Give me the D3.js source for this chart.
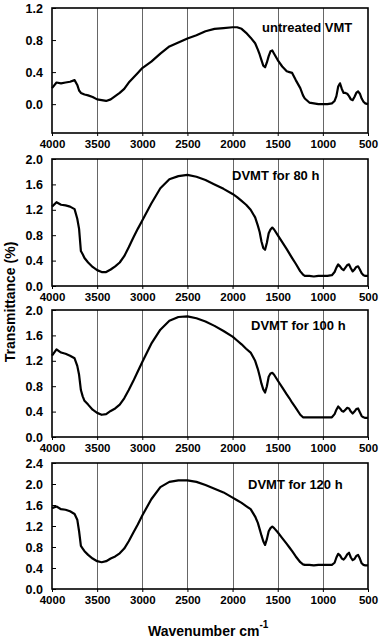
<!DOCTYPE html>
<html>
<head>
<meta charset="utf-8">
<script src="https://cdn.jsdelivr.net/npm/d3@7"></script>
<style>
  body { margin: 0; background: #fff; }
  text { font-family: Arial, 'Liberation Sans', sans-serif; font-weight: bold; }
</style>
</head>
<body>
<div id="chart"></div>
<script>
// wavenumber grid (cm-1) shared by the four spectra
const wavenumbers = [4000, 3950, 3900, 3850, 3800, 3750, 3720, 3700, 3680, 3660, 3640, 3600, 3550, 3500, 3450, 3400,
  3350, 3300, 3250, 3200, 3150, 3100, 3050, 3000, 2900, 2800, 2700, 2600, 2500, 2400, 2300, 2200, 2100, 2000,
  1950, 1900, 1850, 1800, 1750, 1720, 1700, 1680, 1660, 1640, 1620, 1600, 1580, 1560, 1540, 1500, 1450, 1400,
  1370, 1340, 1300, 1250, 1220, 1200, 1150, 1100, 1050, 1000, 950, 900, 870, 850, 830, 810, 790, 770, 750, 730,
  710, 690, 670, 650, 630, 610, 590, 570, 550, 530, 500]

const untreated = [0.20, 0.27, 0.26, 0.27, 0.28, 0.30, 0.24, 0.17, 0.14, 0.13, 0.12, 0.11, 0.09, 0.06, 0.05, 0.04,
  0.06, 0.10, 0.14, 0.19, 0.27, 0.33, 0.39, 0.45, 0.53, 0.63, 0.72, 0.77, 0.82, 0.86, 0.91, 0.94, 0.95, 0.96,
  0.96, 0.94, 0.89, 0.83, 0.76, 0.68, 0.62, 0.55, 0.48, 0.46, 0.52, 0.60, 0.66, 0.67, 0.63, 0.55, 0.47, 0.41,
  0.40, 0.39, 0.30, 0.20, 0.11, 0.07, 0.02, 0.01, 0.00, 0.00, 0.00, 0.01, 0.04, 0.10, 0.22, 0.26, 0.19, 0.14, 0.14, 0.13,
  0.10, 0.06, 0.05, 0.09, 0.14, 0.16, 0.13, 0.07, 0.03, 0.01, 0.00]

const dvmt80 = [1.25, 1.32, 1.28, 1.27, 1.25, 1.21, 1.06, 0.90, 0.55, 0.50, 0.44, 0.37, 0.30, 0.25, 0.22, 0.22,
  0.26, 0.31, 0.37, 0.47, 0.61, 0.76, 0.90, 1.03, 1.30, 1.54, 1.68, 1.73, 1.75, 1.72, 1.67, 1.60, 1.53, 1.45,
  1.40, 1.34, 1.28, 1.20, 1.08, 0.95, 0.85, 0.70, 0.60, 0.57, 0.68, 0.83, 0.89, 0.92, 0.89, 0.80, 0.69, 0.58,
  0.51, 0.44, 0.35, 0.23, 0.18, 0.16, 0.16, 0.15, 0.16, 0.16, 0.16, 0.17, 0.22, 0.29, 0.34, 0.31, 0.27, 0.25, 0.29, 0.33,
  0.34, 0.28, 0.23, 0.26, 0.30, 0.31, 0.26, 0.20, 0.17, 0.16, 0.16]

const dvmt100 = [1.28, 1.38, 1.33, 1.31, 1.28, 1.24, 1.12, 0.98, 0.74, 0.64, 0.57, 0.51, 0.43, 0.38, 0.35, 0.36,
  0.41, 0.45, 0.51, 0.61, 0.74, 0.88, 1.03, 1.18, 1.47, 1.69, 1.83, 1.89, 1.90, 1.87, 1.82, 1.75, 1.67, 1.58,
  1.52, 1.46, 1.39, 1.33, 1.20, 1.07, 0.96, 0.84, 0.75, 0.70, 0.80, 0.95, 1.00, 1.01, 0.98, 0.89, 0.78, 0.67,
  0.61, 0.54, 0.46, 0.35, 0.31, 0.31, 0.31, 0.31, 0.31, 0.31, 0.31, 0.31, 0.36, 0.43, 0.48, 0.45, 0.41, 0.40, 0.43, 0.46,
  0.45, 0.40, 0.37, 0.40, 0.44, 0.45, 0.39, 0.33, 0.31, 0.30, 0.30]

const dvmt120 = [1.54, 1.57, 1.52, 1.51, 1.48, 1.43, 1.32, 1.10, 0.82, 0.77, 0.72, 0.65, 0.58, 0.53, 0.51, 0.53,
  0.58, 0.62, 0.68, 0.77, 0.91, 1.07, 1.23, 1.40, 1.71, 1.94, 2.04, 2.07, 2.07, 2.04, 1.98, 1.91, 1.84, 1.74,
  1.69, 1.64, 1.58, 1.52, 1.38, 1.26, 1.14, 1.02, 0.91, 0.84, 0.95, 1.10, 1.16, 1.19, 1.16, 1.08, 0.97, 0.86,
  0.79, 0.72, 0.62, 0.51, 0.47, 0.46, 0.46, 0.45, 0.46, 0.46, 0.46, 0.46, 0.50, 0.60, 0.67, 0.64, 0.58, 0.56, 0.60, 0.66,
  0.69, 0.60, 0.55, 0.57, 0.63, 0.65, 0.58, 0.49, 0.46, 0.45, 0.45]

const seriesNames = ['untreated VMT', 'DVMT for 80 h', 'DVMT for 100 h', 'DVMT for 120 h']
const xTicks = [4000, 3500, 3000, 2500, 2000, 1500, 1000, 500]
const gridTicks = [3500, 3000, 2500, 2000, 1500, 1000]
const yDomains = [[-0.36, 1.2], [0, 2.0], [0, 2.0], [0, 2.4]]
const yTicks = [[0.0, 0.4, 0.8, 1.2], [0.0, 0.4, 0.8, 1.2, 1.6, 2.0], [0.0, 0.4, 0.8, 1.2, 1.6, 2.0],
  [0.0, 0.4, 0.8, 1.2, 1.6, 2.0, 2.4]]

const width = 379
const height = 641
const left = 52
const right = 368
const panels = [
  { top: 8, bottom: 133, labelX: 262, labelY: 32 },
  { top: 159, bottom: 286, labelX: 232, labelY: 180 },
  { top: 310, bottom: 437, labelX: 251, labelY: 330 },
  { top: 463, bottom: 589, labelX: 248, labelY: 489 }
]

const svg = d3.select('#chart').append('svg')
  .attr('width', width)
  .attr('height', height)

svg.append('rect').attr('width', width).attr('height', height).attr('fill', '#fff')

const xScale = d3.scaleLinear().domain([4000, 500]).range([left, right])

const allSeries = [untreated, dvmt80, dvmt100, dvmt120]

panels.forEach(function(p, i) {
  const yScale = d3.scaleLinear().domain(yDomains[i]).range([p.bottom, p.top])
  const g = svg.append('g')

  // vertical grid lines
  g.selectAll('.grid')
    .data(gridTicks)
    .enter()
    .append('line')
    .attr('x1', d => Math.round(xScale(d)) + 0.5)
    .attr('x2', d => Math.round(xScale(d)) + 0.5)
    .attr('y1', p.top)
    .attr('y2', p.bottom)
    .attr('stroke', '#666')
    .attr('stroke-width', 1)

  // y axis
  const yAxis = d3.axisLeft(yScale).tickValues(yTicks[i]).tickSize(-4).tickPadding(9)
    .tickFormat(d3.format('.1f'))
  g.append('g')
    .attr('transform', 'translate(' + left + ',0)')
    .call(yAxis)
    .call(a => a.select('.domain').remove())
    .call(a => a.selectAll('text').attr('font-size', '12.5px').attr('fill', '#000')
      .style('font-family', 'Arial, "Liberation Sans", sans-serif').style('font-weight', 'bold'))

  // x axis
  const xAxis = d3.axisBottom(xScale).tickValues(xTicks).tickSize(3).tickPadding(4).tickFormat(d3.format('d'))
  g.append('g')
    .attr('transform', 'translate(0,' + p.bottom + ')')
    .call(xAxis)
    .call(a => a.select('.domain').remove())
    .call(a => a.selectAll('text').attr('font-size', '11.5px').attr('fill', '#000')
      .style('font-family', 'Arial, "Liberation Sans", sans-serif').style('font-weight', 'bold'))

  // spectrum
  const line = d3.line()
    .x((d, j) => xScale(wavenumbers[j]))
    .y(d => yScale(d))
  g.append('path')
    .datum(allSeries[i])
    .attr('d', line)
    .attr('fill', 'none')
    .attr('stroke', '#000')
    .attr('stroke-width', 2.2)
    .attr('stroke-linejoin', 'round')

  // frame
  g.append('rect')
    .attr('x', left)
    .attr('y', p.top)
    .attr('width', right - left)
    .attr('height', p.bottom - p.top)
    .attr('fill', 'none')
    .attr('stroke', '#000')
    .attr('stroke-width', 1.6)

  g.append('text')
    .attr('x', p.labelX)
    .attr('y', p.labelY)
    .attr('font-size', '13px')
    .text(seriesNames[i])
})

// axis titles
svg.append('text')
  .attr('transform', 'translate(15,302) rotate(-90)')
  .attr('text-anchor', 'middle')
  .attr('font-size', '14px')
  .text('Transmittance (%)')

const xTitle = svg.append('text')
  .attr('x', 148)
  .attr('y', 636)
  .attr('font-size', '14px')
xTitle.append('tspan').text('Wavenumber cm')
xTitle.append('tspan').attr('dy', -8).attr('font-size', '10px').text('-1')
</script>
</body>
</html>
